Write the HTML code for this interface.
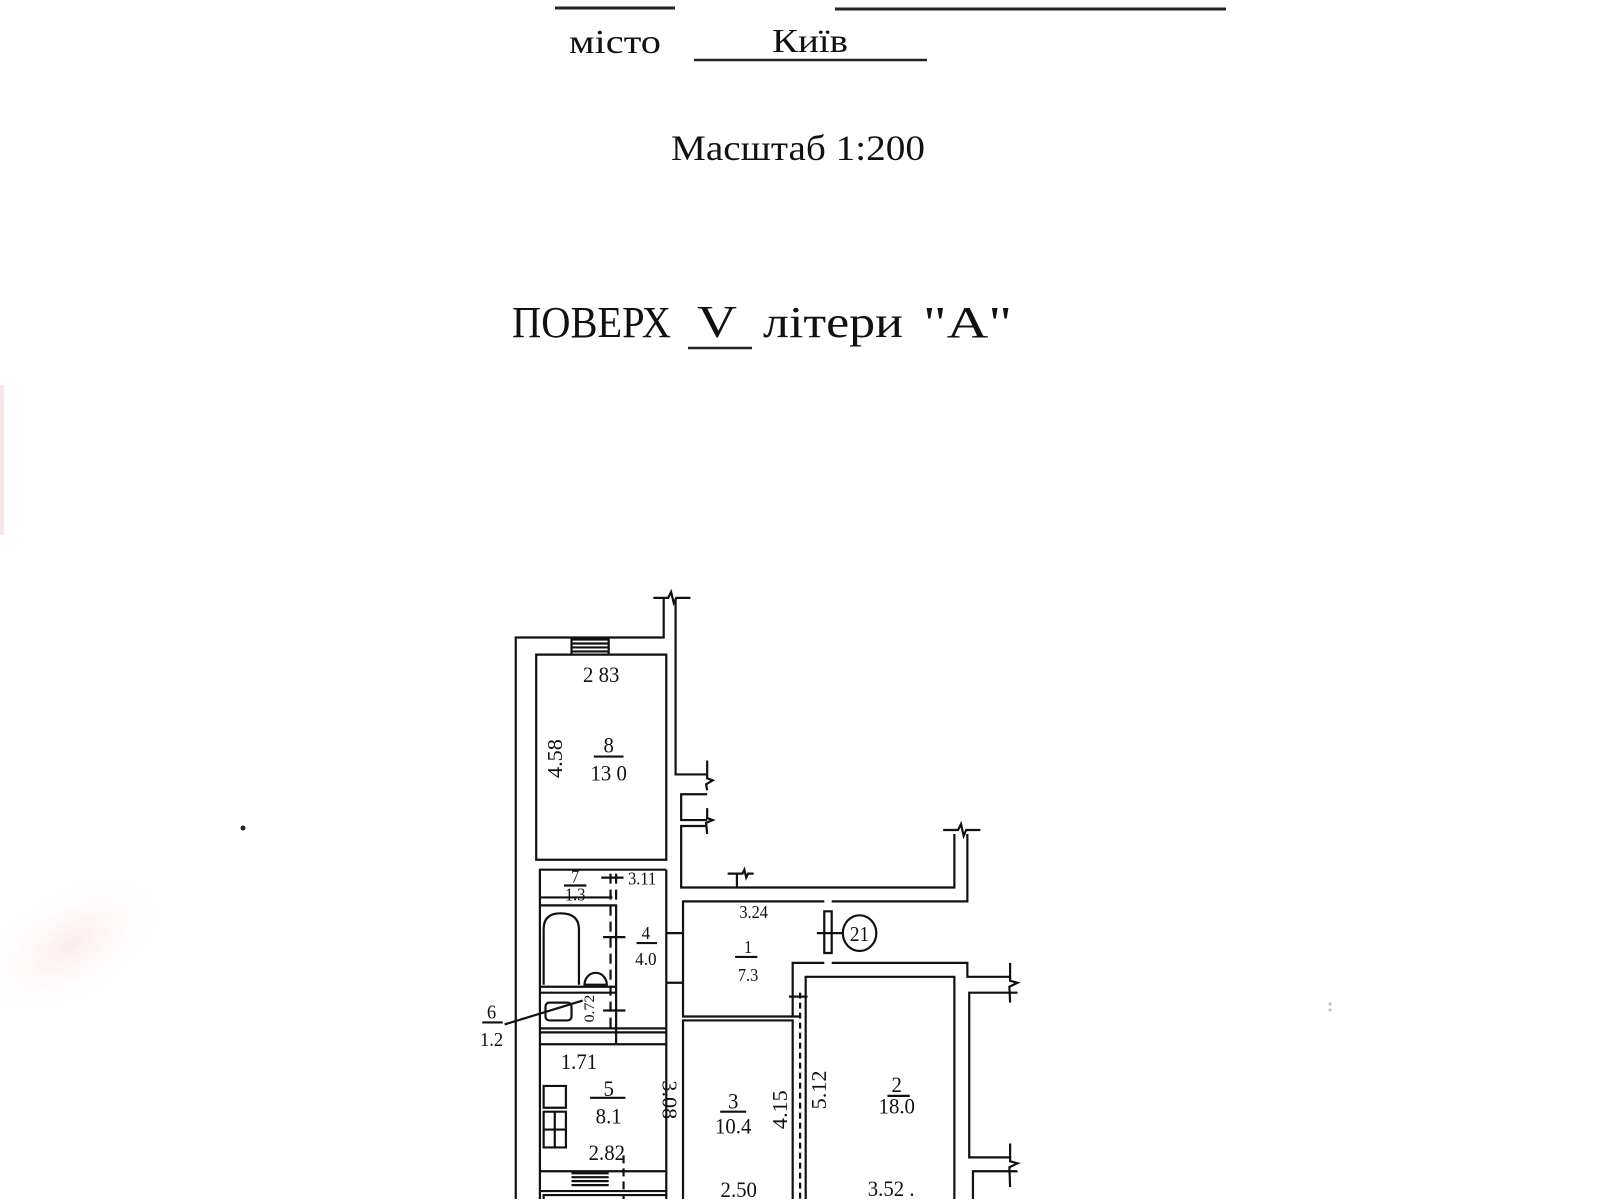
<!DOCTYPE html>
<html><head><meta charset="utf-8">
<style>
html,body{margin:0;padding:0;background:#fff;}
svg{display:block;}
text{font-family:"Liberation Serif",serif;fill:#111;}
</style></head>
<body>
<svg width="1600" height="1200" viewBox="0 0 1600 1200" xmlns="http://www.w3.org/2000/svg">
<defs>
<radialGradient id="pk" cx="50%" cy="50%" r="50%">
<stop offset="0" stop-color="#fbe6e6" stop-opacity="0.8"/>
<stop offset="1" stop-color="#fff" stop-opacity="0"/>
</radialGradient>
</defs>
<rect width="1600" height="1200" fill="#fff"/>
<ellipse cx="70" cy="945" rx="110" ry="60" fill="url(#pk)" transform="rotate(-30 70 945)"/>
<rect x="0" y="385" width="4" height="150" fill="#f6e6e6"/>
<circle cx="243" cy="828" r="2.5" fill="#222"/>

<!-- header -->
<g stroke="#222" stroke-width="3">
<line x1="555" y1="8" x2="675" y2="8"/>
<line x1="835" y1="9" x2="1226" y2="9"/>
<line x1="694" y1="60" x2="927" y2="60" stroke-width="2.5"/>
<line x1="688" y1="348" x2="752" y2="348" stroke-width="2.5"/>
</g>
<text x="569" y="53" font-size="34" textLength="92" lengthAdjust="spacingAndGlyphs">місто</text>
<text x="772" y="52" font-size="34" textLength="76" lengthAdjust="spacingAndGlyphs">Київ</text>
<text x="671" y="160" font-size="36" textLength="254" lengthAdjust="spacingAndGlyphs">Масштаб 1:200</text>
<text x="512" y="337" font-size="44" textLength="159" lengthAdjust="spacingAndGlyphs">ПОВЕРХ</text>
<text x="697" y="337" font-size="46" textLength="40" lengthAdjust="spacingAndGlyphs">V</text>
<text x="763" y="337" font-size="44" textLength="140" lengthAdjust="spacingAndGlyphs">літери</text>
<text x="923" y="337" font-size="44" textLength="89" lengthAdjust="spacingAndGlyphs">"А"</text>

<!-- plan -->
<g transform="translate(460 580) scale(0.3717 0.3968)">
<g fill="none" stroke="#111" stroke-width="2.2">
<path vector-effect="non-scaling-stroke" d="M150,1560 V145 H548 V45"/>
<path vector-effect="non-scaling-stroke" d="M520,45 H560 L568,30 L575,58 L582,45 H620"/>
<path vector-effect="non-scaling-stroke" d="M580,50 V490 H665"/>
<path vector-effect="non-scaling-stroke" d="M665,455 V500 L680,505 L662,515 L665,530"/>
<path vector-effect="non-scaling-stroke" d="M665,540 H595 V605 H665"/>
<path vector-effect="non-scaling-stroke" d="M665,575 V600 L680,605 L662,612 L665,640"/>
<path vector-effect="non-scaling-stroke" d="M665,620 H595 V775 H1330 V640"/>
<path vector-effect="non-scaling-stroke" d="M1300,630 H1340 L1348,615 L1355,645 L1362,630 H1400"/>
<path vector-effect="non-scaling-stroke" d="M1365,640 V810 H1000"/>
<path vector-effect="non-scaling-stroke" d="M980,810 H600 V1100 H915"/>
<path vector-effect="non-scaling-stroke" d="M720,740 H760 L765,730 L770,750 L775,740 H790"/>
<path vector-effect="non-scaling-stroke" d="M745,740 V775"/>
<rect vector-effect="non-scaling-stroke" x="980" y="835" width="20" height="105"/>
<path vector-effect="non-scaling-stroke" d="M960,890 H1030"/>
<circle vector-effect="non-scaling-stroke" cx="1075" cy="890" r="45"/>
<path vector-effect="non-scaling-stroke" d="M895,1100 V965 H980 M1000,965 H1365 V1000 H1480"/>
<path vector-effect="non-scaling-stroke" d="M930,1560 V1000 H1330 V1560"/>
<path vector-effect="non-scaling-stroke" d="M1480,965 V1010 L1500,1015 L1478,1025 L1480,1065"/>
<path vector-effect="non-scaling-stroke" d="M1500,1040 H1370 V1455 H1480"/>
<path vector-effect="non-scaling-stroke" d="M1480,1420 V1465 L1500,1470 L1478,1480 L1480,1530"/>
<path vector-effect="non-scaling-stroke" d="M1500,1490 H1380 V1560"/>
<path vector-effect="non-scaling-stroke" d="M885,1050 H935"/>
<path vector-effect="non-scaling-stroke" d="M600,1560 V1110 H895 V1560"/>
<path vector-effect="non-scaling-stroke" d="M915,1040 V1560" stroke-dasharray="6 4"/>
<path vector-effect="non-scaling-stroke" d="M555,730 V1560"/>
<path vector-effect="non-scaling-stroke" d="M555,890 H600 M555,1015 H600"/>
<rect vector-effect="non-scaling-stroke" x="205" y="188" width="350" height="517"/>
<path vector-effect="non-scaling-stroke" d="M300,150 H400 M300,160 H400 M300,170 H400 M300,180 H400 M300,145 V188 M400,145 V188"/>
<path vector-effect="non-scaling-stroke" d="M215,1560 V730 H555"/>
<path vector-effect="non-scaling-stroke" d="M215,800 H410"/>
<path vector-effect="non-scaling-stroke" d="M215,820 H420 V1170 M215,1025 H420 M215,1040 H420"/>
<path vector-effect="non-scaling-stroke" d="M215,1130 H555 M215,1140 H555"/>
<path vector-effect="non-scaling-stroke" d="M405,740 V1130 M420,740 V820" stroke-dasharray="10 6"/>
<path vector-effect="non-scaling-stroke" d="M380,750 H440 M385,900 H445 M385,1085 H445"/>
<path vector-effect="non-scaling-stroke" d="M225,1020 V880 Q225,840 270,840 Q320,840 320,880 V1020"/>
<path vector-effect="non-scaling-stroke" d="M335,1020 A30,30 0 0 1 395,1020 Z"/>
<rect vector-effect="non-scaling-stroke" x="230" y="1065" width="70" height="45" rx="10"/>
<path vector-effect="non-scaling-stroke" d="M120,1120 L330,1060"/>
<path vector-effect="non-scaling-stroke" d="M215,1170 H420 M420,1170 H555 M215,1490 H555"/>
<path vector-effect="non-scaling-stroke" d="M300,1495 H400 M300,1505 H400 M300,1515 H400 M300,1525 H400"/>
<path vector-effect="non-scaling-stroke" d="M215,1540 H555 M225,1560 V1550 H555"/>
<rect vector-effect="non-scaling-stroke" x="225" y="1275" width="60" height="55"/>
<rect vector-effect="non-scaling-stroke" x="225" y="1340" width="60" height="90"/>
<path vector-effect="non-scaling-stroke" d="M255,1340 V1430 M225,1385 H285"/>
<path vector-effect="non-scaling-stroke" d="M440,1450 V1560" stroke-dasharray="8 5"/>
<path vector-effect="non-scaling-stroke" d="M360,445 H440 M280,770 H340 M475,915 H530 M740,950 H800 M350,1305 H445 M700,1340 H770 M1150,1300 H1210 M60,1115 H115"/>
</g>
<g font-size="56" text-anchor="middle">
<text x="380" y="257">2 83</text>
<text x="400" y="435">8</text>
<text x="400" y="505">13 0</text>
<text x="310" y="762" font-size="44">7</text>
<text x="310" y="808" font-size="44">1.3</text>
<text x="490" y="768" font-size="44">3.11</text>
<text x="500" y="905" font-size="46">4</text>
<text x="500" y="970" font-size="46">4.0</text>
<text x="790" y="852" font-size="44">3.24</text>
<text x="775" y="940" font-size="44">1</text>
<text x="775" y="1010" font-size="44">7.3</text>
<text x="1075" y="910" font-size="52">21</text>
<text x="85" y="1105" font-size="50">6</text>
<text x="85" y="1175" font-size="50">1.2</text>
<text x="320" y="1232">1.71</text>
<text x="400" y="1300">5</text>
<text x="400" y="1370">8.1</text>
<text x="395" y="1462">2.82</text>
<text x="735" y="1332">3</text>
<text x="735" y="1395">10.4</text>
<text x="1175" y="1290">2</text>
<text x="1175" y="1345">18.0</text>
<text x="750" y="1555">2.50</text>
<text x="1160" y="1552">3.52 .</text>
<text transform="translate(275 450) rotate(-90)">4.58</text>
<text transform="translate(545 1310) rotate(90)">3.08</text>
<text transform="translate(880 1335) rotate(-90)">4.15</text>
<text transform="translate(985 1285) rotate(-90)">5.12</text>
<text transform="translate(360 1080) rotate(-90)" font-size="40">0.72</text>
</g>
</g>
<g fill="#bbb"><circle cx="1330" cy="1004" r="1.5"/><circle cx="1330" cy="1010" r="1.5"/></g>
</svg>
</body></html>
